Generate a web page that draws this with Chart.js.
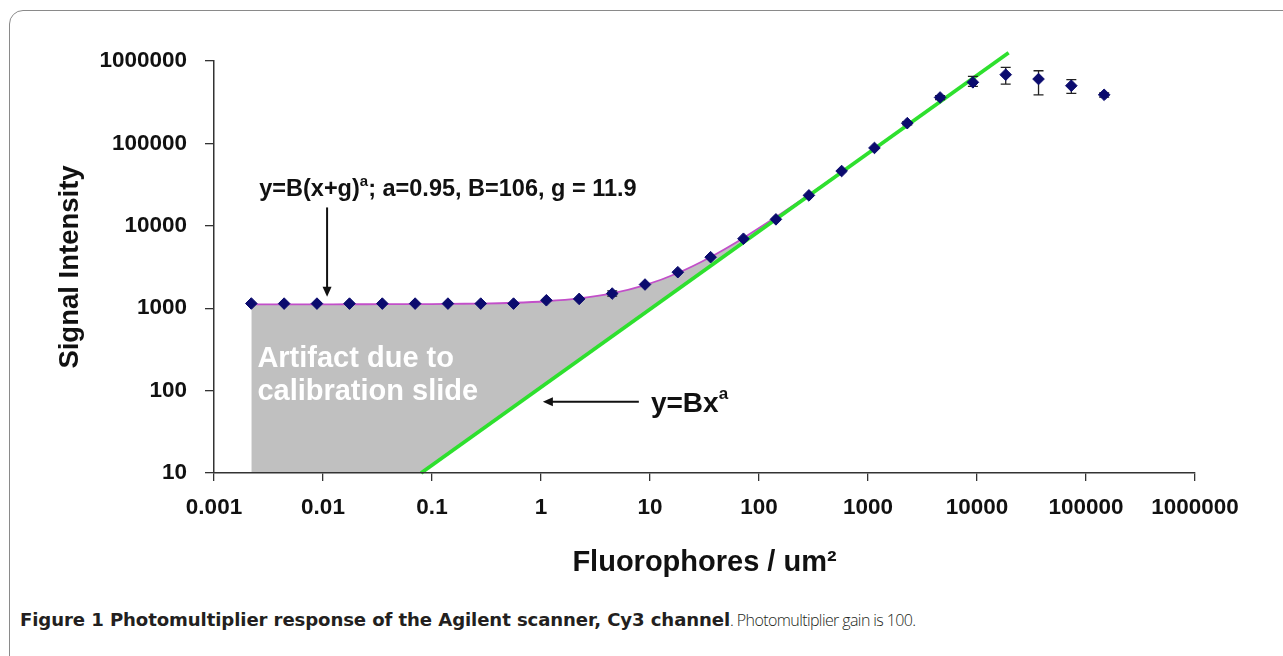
<!DOCTYPE html>
<html>
<head>
<meta charset="utf-8">
<script src="https://cdn.jsdelivr.net/npm/chart.js@4.4.1/dist/chart.umd.min.js"></script>
<style>
  body { margin: 0; background: #fff; width: 1283px; height: 656px; overflow: hidden; position: relative; }
  #frame { position: absolute; left: 9px; top: 10px; width: 1300px; height: 700px; border: 1px solid #8a8a8a; border-radius: 14px; }
  #c { position: absolute; left: 0; top: 0; }
  #cap { position: absolute; left: 20px; top: 609px; color: #231f20; white-space: nowrap; }
  #cap b { font-family: "DejaVu Sans", sans-serif; font-weight: bold; font-size: 18.1px; letter-spacing: -0.1px; }
  #cap span { font-family: "Open Sans", sans-serif; font-weight: 300; font-size: 16px; letter-spacing: -0.6px; }
</style>
</head>
<body>
<div id="frame"></div>
<canvas id="c" width="1283" height="600"></canvas>
<div id="cap"><b>Figure 1 Photomultiplier response of the Agilent scanner, Cy3 channel</b><span>. Photomultiplier gain is 100.</span></div>
<script>
// measured points (fluorophores / um2 vs signal)
const fluoro = [0.0022, 0.0044, 0.0088, 0.0175, 0.035, 0.07, 0.14, 0.28, 0.56, 1.12, 2.24, 4.5, 9, 18, 36, 72, 143, 287, 573, 1146, 2292, 4585, 9170, 18340, 36680, 73360, 146700];
const signal = [1140, 1137, 1137, 1137, 1137, 1137, 1137, 1137, 1137, 1248, 1297, 1506, 1938, 2735, 4161, 6968, 11970, 23400, 46200, 88100, 176000, 361000, 551000, 682000, 604000, 501000, 389000];
const errLow = [null, null, null, null, null, null, null, null, null, null, null, 1400, null, null, null, null, null, null, null, null, 168000, 340000, 492000, 525000, 389000, 404000, 365000];
const errHigh = [null, null, null, null, null, null, null, null, null, null, null, 1620, null, null, null, null, null, null, null, null, 184000, 380000, 652000, 838000, 762000, 593000, 410000];

// fitted curve y=B(x+g)^a
const fitX = [0.0022, 0.0044, 0.0088, 0.0175, 0.035, 0.07, 0.14, 0.28, 0.56, 1.12, 2.24, 4.5, 9, 18, 36, 72, 143, 287, 573, 1146, 2292, 4585];
const fitY = [1115, 1115, 1115, 1116, 1118, 1121, 1127, 1139, 1164, 1214, 1313, 1511, 1903, 2674, 4184, 7125, 12760, 23830, 45080, 86200, 165800, 319000];

// power law y=Bx^a (green), end points
const lawX = [0.0794, 19500];
const lawY = [10, 1260000];

const xTicks = [0.001, 0.01, 0.1, 1, 10, 100, 1000, 10000, 100000, 1000000];
const xTickLabels = ['0.001', '0.01', '0.1', '1', '10', '100', '1000', '10000', '100000', '1000000'];
const yTicks = [10, 100, 1000, 10000, 100000, 1000000];
const yTickLabels = ['10', '100', '1000', '10000', '100000', '1000000'];

const FONT = '"Liberation Sans", Arial, sans-serif';

const errorBars = {
  id: 'errorBars',
  beforeDatasetDraw(chart, args) {
    if (args.index !== 0) return;
    const ctx = chart.ctx, xs = chart.scales.x, ys = chart.scales.y;
    ctx.save();
    ctx.strokeStyle = '#222';
    ctx.lineWidth = 1.3;
    fluoro.forEach((f, i) => {
      if (errLow[i] == null) return;
      const px = xs.getPixelForValue(f);
      const lo = ys.getPixelForValue(errLow[i]);
      const hi = ys.getPixelForValue(errHigh[i]);
      ctx.beginPath();
      ctx.moveTo(px, lo); ctx.lineTo(px, hi);
      ctx.moveTo(px - 5, lo); ctx.lineTo(px + 5, lo);
      ctx.moveTo(px - 5, hi); ctx.lineTo(px + 5, hi);
      ctx.stroke();
    });
    ctx.restore();
  }
};

function arrow(ctx, x1, y1, x2, y2) {
  const ang = Math.atan2(y2 - y1, x2 - x1);
  ctx.beginPath();
  ctx.moveTo(x1, y1);
  ctx.lineTo(x2 - 8 * Math.cos(ang), y2 - 8 * Math.sin(ang));
  ctx.stroke();
  ctx.beginPath();
  ctx.moveTo(x2, y2);
  ctx.lineTo(x2 - 10 * Math.cos(ang) + 4.5 * Math.sin(ang), y2 - 10 * Math.sin(ang) - 4.5 * Math.cos(ang));
  ctx.lineTo(x2 - 10 * Math.cos(ang) - 4.5 * Math.sin(ang), y2 - 10 * Math.sin(ang) + 4.5 * Math.cos(ang));
  ctx.closePath();
  ctx.fill();
}

function supText(ctx, x, y, parts, size) {
  // parts: [text, isSuperscript]
  let cx = x;
  parts.forEach(([t, sup]) => {
    ctx.font = 'bold ' + (sup ? Math.round(size * 0.62) : size) + 'px ' + FONT;
    ctx.fillText(t, cx, sup ? y - size * 0.45 : y);
    cx += ctx.measureText(t).width;
  });
}

const annotations = {
  id: 'annotations',
  afterDatasetsDraw(chart) {
    const ctx = chart.ctx, xs = chart.scales.x, ys = chart.scales.y;
    const X = v => xs.getPixelForValue(v), Y = v => ys.getPixelForValue(v);
    ctx.save();
    ctx.textBaseline = 'alphabetic';
    ctx.fillStyle = '#111';
    supText(ctx, X(0.0026), Y(29300) + 9, [['y=B(x+g)', false], ['a', true], ['; a=0.95, B=106, g = 11.9', false]], 23.5);
    supText(ctx, X(10.2), Y(73) + 10, [['y=Bx', false], ['a', true]], 28);

    ctx.strokeStyle = '#111';
    ctx.lineWidth = 2;
    arrow(ctx, X(0.0109), Y(16700), X(0.0109), Y(1380));
    arrow(ctx, X(7.9), Y(73), X(1.04), Y(73));

    ctx.fillStyle = '#fff';
    ctx.font = 'bold 29px ' + FONT;
    ctx.fillText('Artifact due to', X(0.0025), Y(257) + 10);
    ctx.fillText('calibration slide', X(0.0025), Y(102) + 10);
    ctx.restore();
  }
};

new Chart(document.getElementById('c'), {
  type: 'scatter',
  data: {
    datasets: [
      {
        label: 'Data',
        data: fluoro.map((f, i) => ({ x: f, y: signal[i] })),
        pointStyle: 'rectRot',
        pointRadius: 5.8,
        backgroundColor: '#0b0b6e',
        borderColor: '#0b0b6e',
        borderWidth: 1,
        showLine: false,
        order: 0
      },
      {
        label: 'y=Bx^a',
        data: lawX.map((f, i) => ({ x: f, y: lawY[i] })),
        showLine: true,
        pointRadius: 0,
        borderColor: '#2ee02e',
        borderWidth: 3.8,
        fill: 'start',
        backgroundColor: '#ffffff',
        clip: 12,
        order: 1
      },
      {
        label: 'y=B(x+g)^a',
        data: fitX.map((f, i) => ({ x: f, y: fitY[i] })),
        showLine: true,
        pointRadius: 0,
        borderColor: '#c24fc9',
        borderWidth: 1.8,
        tension: 0.3,
        fill: 'start',
        backgroundColor: '#c0c0c0',
        order: 2
      }
    ]
  },
  options: {
    responsive: false,
    animation: false,
    layout: { padding: { top: 61, left: 48, right: 88, bottom: 20 } },
    plugins: { legend: { display: false }, tooltip: { enabled: false } },
    scales: {
      x: {
        type: 'logarithmic',
        min: 0.001,
        max: 1000000,
        afterBuildTicks: s => { s.ticks = xTicks.map(v => ({ value: v })); },
        afterFit: s => { s.height = 107; },
        ticks: {
          callback: (v, i) => xTickLabels[i],
          color: '#111',
          font: { family: FONT, size: 22.5, weight: 'bold' },
          padding: 13,
          maxRotation: 0,
          autoSkip: false
        },
        grid: { drawOnChartArea: false, drawTicks: true, tickLength: 8, color: '#333', lineWidth: 1.3 },
        border: { color: '#333', width: 1.5, z: 1 },
        title: {
          display: true,
          text: 'Fluorophores / um²',
          color: '#111',
          font: { family: FONT, size: 29, weight: 'bold' },
          padding: { top: 3, bottom: 0 }
        }
      },
      y: {
        type: 'logarithmic',
        min: 10,
        max: 1000000,
        afterBuildTicks: s => { s.ticks = yTicks.map(v => ({ value: v })); },
        afterFit: s => { s.width = 166; },
        ticks: {
          callback: (v, i) => yTickLabels[i],
          color: '#111',
          font: { family: FONT, size: 22.5, weight: 'bold' },
          padding: 18,
          autoSkip: false
        },
        grid: { drawOnChartArea: false, drawTicks: true, tickLength: 9, color: '#333', lineWidth: 1.3 },
        border: { color: '#333', width: 1.5, z: 1 },
        title: {
          display: true,
          text: 'Signal Intensity',
          color: '#111',
          font: { family: FONT, size: 27.5, weight: 'bold' },
          padding: { top: 6, bottom: 0 }
        }
      }
    }
  },
  plugins: [errorBars, annotations]
});
</script>
</body>
</html>
